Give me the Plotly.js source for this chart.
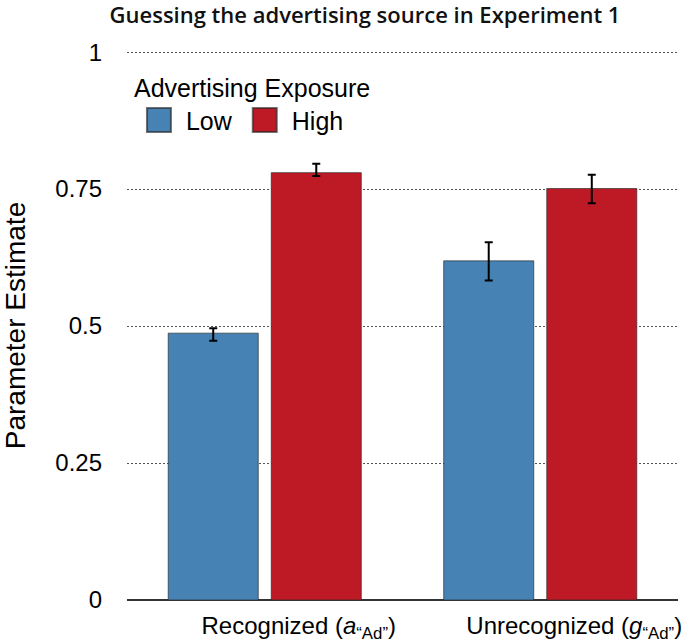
<!DOCTYPE html>
<html>
<head>
<meta charset="utf-8">
<script src="https://cdn.plot.ly/plotly-3.0.1.min.js"></script>
<style>html,body{margin:0;padding:0;background:#fff;}#chart{width:685px;height:644px;}</style>
</head>
<body>
<div id="chart"></div>
<script>
// Data
const categories = ["Recognized (<i>a</i><sub>“Ad”</sub>)", "Unrecognized (<i>g</i><sub>“Ad”</sub>)"];
const seriesNames = ["Low", "High"];
const lowValues = [0.487, 0.619];
const lowErrPlus = [0.009, 0.034];
const lowErrMinus = [0.014, 0.036];
const highValues = [0.780, 0.751];
const highErrPlus = [0.016, 0.025];
const highErrMinus = [0.006, 0.027];
const yTickVals = [0, 0.25, 0.5, 0.75, 1];
const yTickText = ["0", "0.25", "0.5", "0.75", "1"];

const FONT = '"Liberation Sans", Arial, Helvetica, sans-serif';
const colors = ["#4682B4", "#BE1A26"];

function barTrace(name, vals, ep, em, color) {
  return {
    type: 'bar', name: name, x: categories, y: vals,
    marker: {color: color, line: {color: 'rgba(40,40,40,0.65)', width: 1}},
    error_y: {type: 'data', symmetric: false, array: ep, arrayminus: em,
              color: '#000', thickness: 2, width: 4},
    hoverinfo: 'y'
  };
}

const data = [
  barTrace(seriesNames[0], lowValues, lowErrPlus, lowErrMinus, colors[0]),
  barTrace(seriesNames[1], highValues, highErrPlus, highErrMinus, colors[1])
];

const layout = {
  width: 685, height: 644,
  margin: {l: 127, r: 7, t: 51, b: 44},
  paper_bgcolor: '#fff', plot_bgcolor: '#fff',
  font: {family: FONT, color: '#000', size: 24},
  title: {text: 'Guessing the advertising source in Experiment 1',
          font: {family: '"Open Sans", "Noto Sans", sans-serif', size: 22, weight: 600, color: '#111'},
          x: 365 / 685, xanchor: 'center', xref: 'container',
          y: 1 - 15 / 644, yanchor: 'middle', yref: 'container'},
  barmode: 'group', bargap: 0.252, bargroupgap: 0.126,
  xaxis: {type: 'category', showgrid: false, showline: false, ticks: '',
          tickfont: {size: 24, family: FONT}, ticklabelshift: 34, ticklabelstandoff: 9,
          fixedrange: true},
  yaxis: {range: [0, 1.002], tickvals: yTickVals, ticktext: yTickText,
          showgrid: true, gridcolor: '#555', gridwidth: 1, griddash: '1.5px,2.5px',
          zeroline: true, zerolinecolor: '#333', zerolinewidth: 1.5,
          showline: false, ticks: '', tickfont: {size: 24, family: FONT},
          ticklabelstandoff: 24,
          title: {text: 'Parameter Estimate', font: {size: 28, family: FONT}, standoff: 28},
          fixedrange: true},
  showlegend: true,
  legend: {orientation: 'h', x: 0.009, xanchor: 'left', y: 0.975, yanchor: 'top',
           bgcolor: 'rgba(0,0,0,0)', font: {size: 25, family: FONT},
           title: {text: 'Advertising Exposure', side: 'top', font: {size: 25, family: FONT}},
           itemwidth: 44, traceorder: 'normal'}
};

Plotly.newPlot('chart', data, layout, {staticPlot: true, displayModeBar: false}).then(function(gd) {
  gd.querySelectorAll('.legend .legendpoints path').forEach(function(p) {
    const t = p.getAttribute('transform') || '';
    p.setAttribute('transform', t + ' scale(2)');
  });
});
</script>
</body>
</html>
